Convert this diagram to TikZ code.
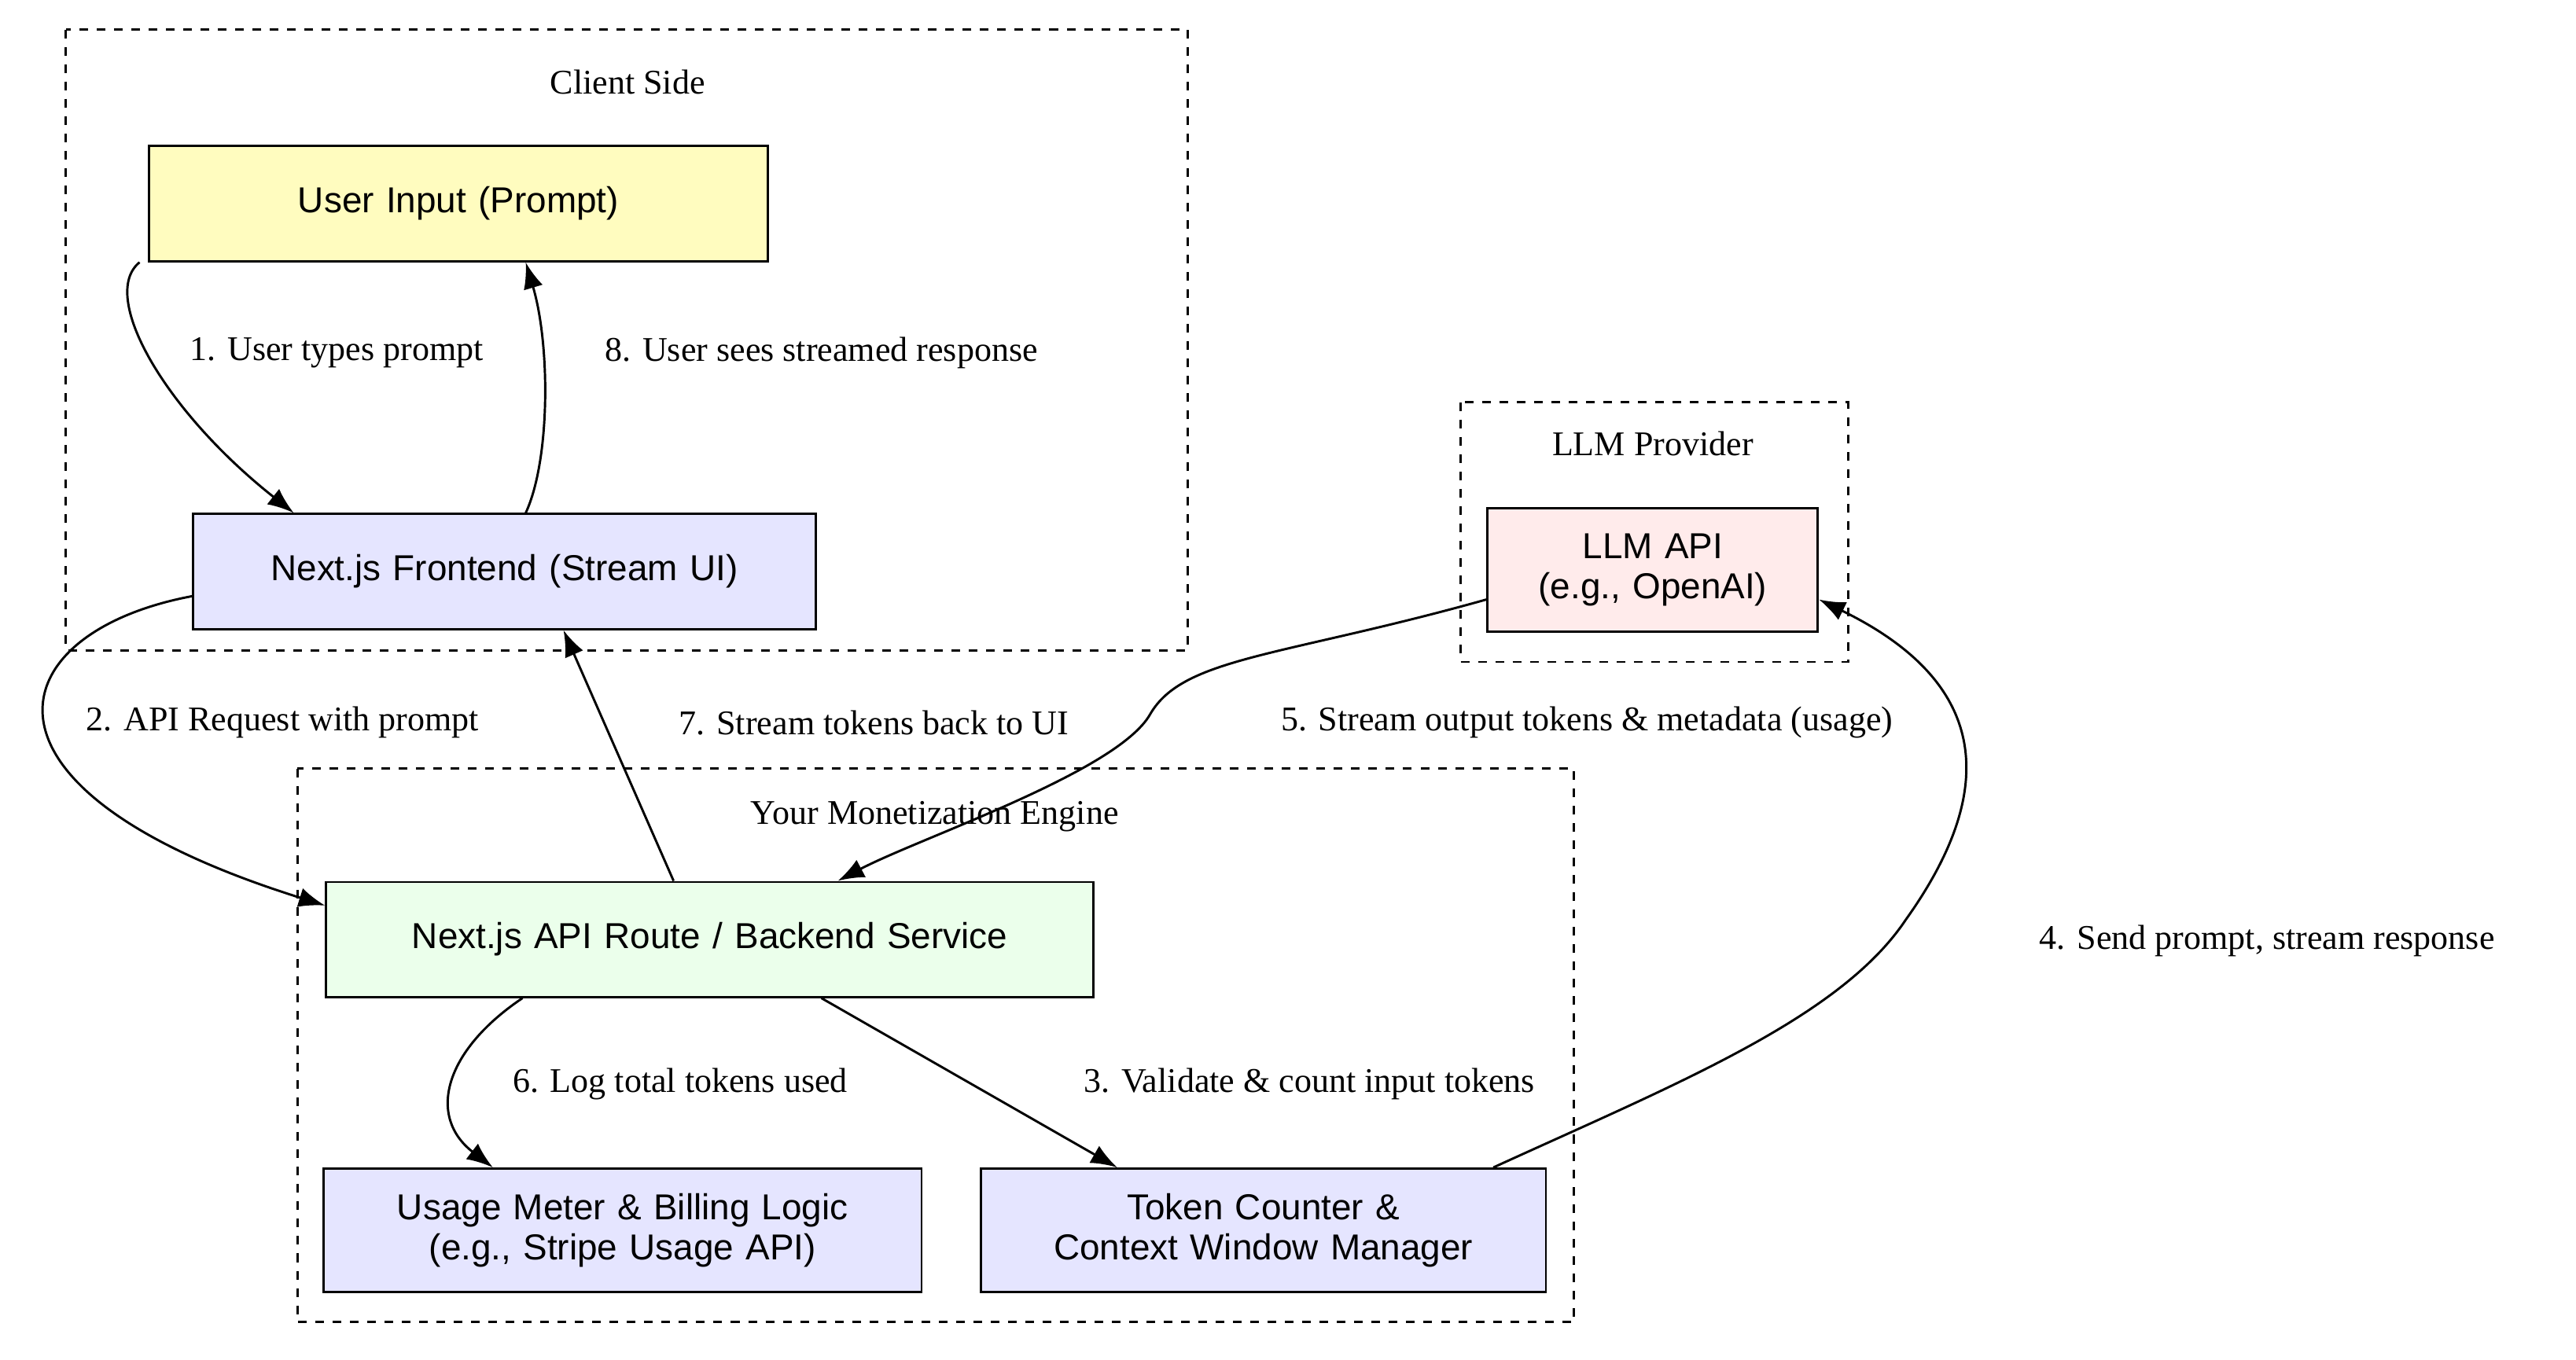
\documentclass[tikz,border=0pt]{standalone}
\usepackage{fontspec}
\setmainfont{Liberation Serif}
\newfontfamily\boxfont{Liberation Sans}
\usetikzlibrary{arrows.meta, positioning}
\begin{document}
\begin{tikzpicture}[
    x=0.02cm, y=-0.02cm,
    >={Latex[length=3.2mm,width=2.4mm]},
    block/.style={rectangle, draw=black, thick, font=\boxfont\fontsize{12.5}{14}\selectfont, align=center, inner sep=0pt},
    cluster/.style={draw=black, thick, dashed},
    flow/.style={->, thick, black},
    lbl/.style={font=\fontsize{12}{14}\selectfont, inner sep=1pt}
]
    \useasboundingbox (0,0) rectangle (1568,828);

    % Clusters
    \draw[cluster] (40,18) rectangle (723,396);
    \node[lbl] (client) at (382,50) {Client Side};
    \draw[cluster] (889,245) rectangle (1125,403);
    \node[lbl] (provider) at (1006,270) {LLM Provider};
    \draw[cluster] (181,468) rectangle (958,805);
    \node[lbl] (engine) at (569,497) {Your Monetization Engine};

    % Nodes
    \node (input) [block, fill=yellow!25, minimum width=268\pgflinewidth, text width=5.36cm, minimum height=1.4cm] at (279,124) {User Input (Prompt)};
    \node (frontend) [block, fill=blue!10, text width=7.58cm, minimum height=1.4cm] at (307,348) {Next.js Frontend (Stream UI)};
    \node (llm) [block, fill=red!8, text width=4.02cm, minimum height=1.5cm] at (1006,347) {LLM API\\(e.g., OpenAI)};
    \node (backend) [block, fill=green!8, text width=9.34cm, minimum height=1.4cm] at (432,572) {Next.js API Route / Backend Service};
    \node (meter) [block, fill=blue!10, text width=7.28cm, minimum height=1.5cm] at (379,749) {Usage Meter \& Billing Logic\\(e.g., Stripe Usage API)};
    \node (counter) [block, fill=blue!10, text width=6.88cm, minimum height=1.5cm] at (769,749) {Token Counter \&\\Context Window Manager};

    % Edges
    \draw[flow] ([xshift=-0.1cm]input.south west) .. controls (60,180) and (100,250) .. ([xshift=1.24cm]frontend.north west);
    \node[lbl] (l1) at (205,215) {1. User types prompt};
    \draw[flow] ([xshift=0.26cm]frontend.north) .. controls (335,280) and (335,210) .. ([xshift=0.82cm]input.south);
    \node[lbl] (l8) at (500,215) {8. User sees streamed response};
    \draw[flow] ([yshift=-0.3cm]frontend.west) .. controls (0,385) and (-30,480) .. ([yshift=-0.3cm]backend.north west);
    \node[lbl] (l2) at (172,440) {2. API Request with prompt};
    \draw[flow] ([xshift=-0.44cm]backend.north) -- ([xshift=0.72cm]frontend.south);
    \node[lbl] (l7) at (532,440) {7. Stream tokens back to UI};
    \draw[flow] ([yshift=-0.36cm]llm.west) .. controls (780,400) and (720,400) .. (700,435) .. controls (680,470) and (560,510) .. ([xshift=1.56cm]backend.north);
    \node[lbl] (l5) at (966,440) {5. Stream output tokens \& metadata (usage)};
    \draw[flow] ([xshift=2.8cm]counter.north) .. controls (1020,660) and (1120,620) .. (1160,560) .. controls (1210,490) and (1220,420) .. ([yshift=-0.36cm]llm.east);
    \node[lbl] (l4) at (1380,573) {4. Send prompt, stream response};
    \draw[flow] ([xshift=-2.28cm]backend.south) .. controls (270,640) and (260,680) .. ([xshift=-1.58cm]meter.north);
    \node[lbl] (l6) at (414,660) {6. Log total tokens used};
    \draw[flow] ([xshift=1.36cm]backend.south) -- ([xshift=-1.78cm]counter.north);
    \node[lbl] (l3) at (797,660) {3. Validate \& count input tokens};
\end{tikzpicture}
\end{document}
